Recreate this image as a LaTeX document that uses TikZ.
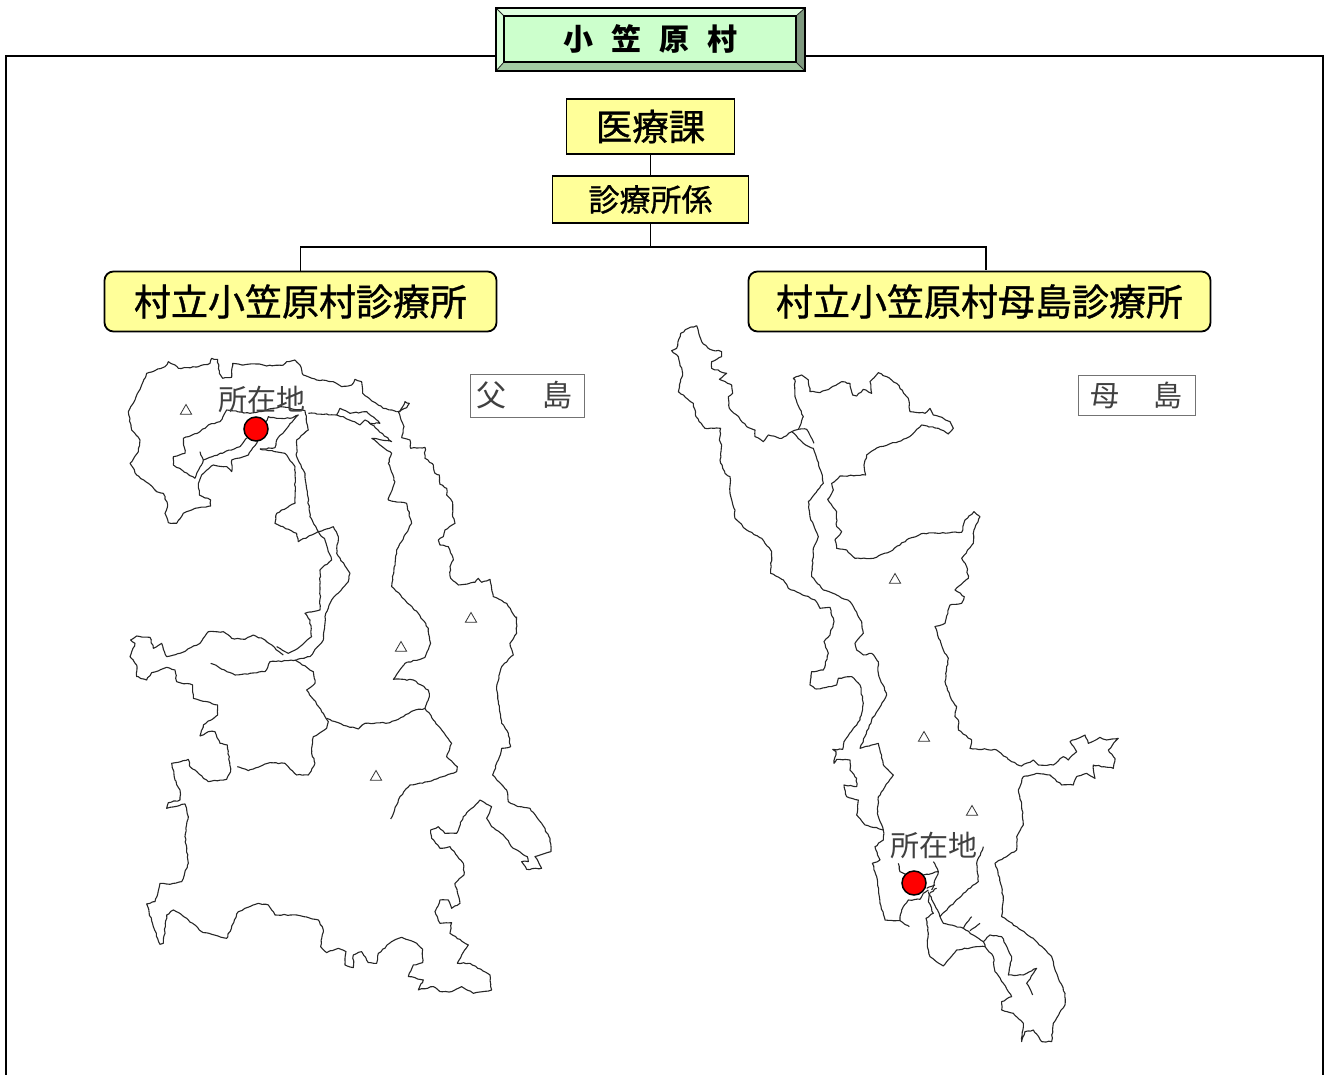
\documentclass[tikz,border=0pt]{standalone}
\usepackage{fontspec}
\setmainfont{Noto Sans CJK JP}
\newfontfamily\boxfont{Noto Sans CJK JP}[FakeBold=1]
\usetikzlibrary{shapes.geometric,decorations.pathmorphing}
\definecolor{boxyellow}{HTML}{FFFF99}
\definecolor{boxgreen}{HTML}{CCFFCC}
\tikzset{
  officebox/.style={draw=black,line width=1.8pt,fill=boxyellow,inner sep=0pt,align=center},
  clinicbox/.style={officebox,rounded corners=9pt},
  islandbox/.style={draw=black!55,line width=0.8pt,fill=white,inner sep=0pt,text=black!75},
  placelabel/.style={inner sep=0pt,text=black!75,font=\fontsize{29}{29}\selectfont},
  peak/.style={draw=black!80,line width=0.8pt,regular polygon,regular polygon sides=3,inner sep=0pt,minimum size=13pt},
  seat/.style={circle,draw=black,line width=1.5pt,fill=red,inner sep=0pt,minimum size=24pt},
  coast/.style={black!85,line width=1.1pt,line join=round,decorate,decoration={random steps,segment length=3pt,amplitude=0.6pt}},
  chichiA/.style={shift={(120,350)},x=0.3333pt,y=-0.3333pt},
  chichiB/.style={shift={(120,600)},x=0.3333pt,y=-0.3333pt},
  chichiC/.style={shift={(380,395)},x=0.3333pt,y=-0.3333pt},
  hahaA/.style={shift={(660,320)},x=0.3333pt,y=-0.3333pt},
  hahaB/.style={shift={(820,700)},x=0.3333pt,y=-0.3333pt}
}
\begin{document}
\begin{tikzpicture}[x=1pt,y=-1pt]
\useasboundingbox (0,0) rectangle (1327,1075);
% outer frame
\draw[black,line width=1.8pt] (6,1075)--(6,56)--(1323,56)--(1323,1075);

% title plate
\fill[boxgreen!60!white] (496,8)--(805,8)--(796,16)--(504,16)--cycle;
\fill[boxgreen!75!white] (496,8)--(504,16)--(504,62)--(496,71)--cycle;
\fill[boxgreen!55!black!90] (805,8)--(796,16)--(796,62)--(805,71)--cycle;
\fill[boxgreen!80!black] (496,71)--(504,62)--(796,62)--(805,71)--cycle;
\draw[black!85,line width=0.8pt] (496,8)--(504,16) (805,8)--(796,16) (496,71)--(504,62) (805,71)--(796,62);
\draw[black,line width=1.5pt] (496,8) rectangle (805,71);
\node (title) at (650,39) [draw=black,line width=1.2pt,fill=boxgreen,inner sep=0pt,minimum width=292pt,minimum height=46pt,font=\fontsize{30}{30}\selectfont\bfseries]{小\hspace{18pt}笠\hspace{18pt}原\hspace{18pt}村};

% offices
\node (ika) at (650.5,126.5) [officebox,minimum width=168pt,minimum height=55pt,font=\boxfont\fontsize{36.5}{37}\selectfont]{医療課};
\node (kakari) at (650.5,199.5) [officebox,minimum width=196pt,minimum height=47pt,font=\boxfont\fontsize{31}{31}\selectfont]{診療所係};
\node (chichiclinic) at (300.5,301.5) [clinicbox,minimum width=392pt,minimum height=60pt,font=\boxfont\fontsize{37}{37}\selectfont]{村立小笠原村診療所};
\node (hahaclinic) at (979.5,301.5) [clinicbox,minimum width=462pt,minimum height=60pt,font=\boxfont\fontsize{37}{37}\selectfont]{村立小笠原村母島診療所};

\coordinate (bus) at (650.5,247);
\coordinate (hahadrop) at (986,270.5);
\draw[line width=1.8pt] (ika)--(kakari);
\draw[line width=1.8pt] (kakari)--(bus);
\draw[line width=1.8pt] (bus)-|(chichiclinic.north);
\draw[line width=1.8pt] (bus)-|(hahadrop);

% Chichijima, north half
\begin{scope}[chichiA]
\draw[coast] (235,405)--(238,435)--(272,450)--(272,468)--(225,475)--(190,490)--(170,520)--(145,518)--(135,490)--(143,465)--(130,430)--(110,425)--(85,400)--(50,375)--(30,340)--(55,305)--(60,270)--(35,240)--(25,185)--(45,150)--(65,105)--(80,70)--(135,50)--(145,35)--(165,45)--(175,55)--(235,50)--(270,40)--(275,25)--(293,28)--(298,70)--(308,85)--(335,82)--(338,40)--(370,45)--(410,42)--(440,48)--(490,45)--(500,35)--(525,30)--(540,45)--(550,75)--(590,90)--(640,95)--(665,110)--(695,105)--(705,88)--(725,95)--(728,130)--(760,155)--(790,175)--(830,185);
\draw[coast] (420,297)--(465,293)--(470,270)--(525,205)--(535,195)--(510,205)--(470,205)--(445,200)--(425,250)--(410,280)--(385,315)--(335,330)--(335,365)--(320,350)--(280,345)--(245,375)--(235,405);
\draw[coast] (225,385)--(160,345)--(160,320)--(195,310)--(190,265)--(240,245)--(265,225)--(300,215)--(320,180)--(390,190)--(440,180)--(480,170)--(555,182)--(565,240)--(530,270)--(530,320)--(555,370)--(570,500)--(595,545)--(640,530)--(655,560)--(650,610)--(690,670)--(685,695)--(635,750)--(615,800)--(610,870)--(570,920)--(530,930)--(450,935)--(435,965)--(345,975)--(272,940);
\draw[coast] (225,385)--(250,330)--(360,290)--(380,265);
\draw[coast] (250,330)--(240,305);
\draw[coast] (420,297)--(495,310)--(525,350)--(525,460)--(470,490)--(465,520)--(530,550)--(535,575)--(595,545)--(615,570)--(635,630)--(600,660)--(600,780)--(555,790)--(570,810)--(575,860)--(540,890)--(505,910)--(470,890);
\draw[coast] (565,190)--(650,195)--(660,175)--(690,190)--(740,185)--(780,220)--(750,220)--(735,210)--(720,225)--(670,200)--(650,195);
\draw[coast] (755,265)--(815,275)--(745,215);
\draw[coast] (755,265)--(780,285)--(815,310)--(805,340)--(825,395)--(805,450)--(860,460)--(875,520)--(830,600)--(815,710)--(855,750);
\end{scope}

% Chichijima, east coast
\begin{scope}[chichiC]
\draw[coast] (50,50)--(60,50)--(75,20)--(88,25)--(80,38)--(55,50)--(72,95)--(65,128)--(90,135)--(92,160)--(135,157)--(135,190)--(160,210)--(165,235)--(178,240)--(180,268)--(200,280)--(200,300)--(218,322)--(218,365)--(225,385)--(195,405)--(190,425)--(175,435)--(180,450)--(205,455)--(220,495)--(210,515)--(212,550)--(235,570)--(285,562)--(295,550)--(305,562)--(330,553)--(340,605)--(380,625)--(398,655)--(410,670);
\end{scope}

% Chichijima, south half
\begin{scope}[chichiB]
\draw[coast] (1190,50)--(1190,100)--(1170,130)--(1180,165)--(1145,200)--(1130,260)--(1135,310)--(1145,370)--(1165,400)--(1172,440)--(1145,445)--(1135,480)--(1118,525)--(1160,570)--(1165,605)--(1195,620)--(1230,625)--(1265,670)--(1290,715)--(1293,755)--(1245,770)--(1265,805)--(1220,808)--(1205,785)--(1225,785)--(1222,770)--(1180,745)--(1150,705)--(1115,680)--(1100,655)--(1115,620)--(1080,600)--(1030,650)--(1010,700)--(975,700)--(955,680)--(932,690)--(935,715)--(960,745)--(990,740)--(1030,790)--(1032,825)--(1005,850)--(1020,910)--(995,925)--(985,900)--(960,900)--(945,935)--(960,970)--(995,968)--(990,1000)--(1045,1035)--(1012,1090)--(1050,1090)--(1110,1125)--(1115,1170)--(1060,1180)--(1025,1160)--(995,1175)--(960,1175)--(940,1160)--(895,1170)--(910,1140)--(865,1130)--(880,1095)--(908,1088)--(908,1048)--(890,1030)--(845,1012)--(815,1025)--(775,1060)--(770,1090)--(745,1088)--(725,1055)--(700,1065)--(700,1103)--(675,1095)--(678,1055)--(655,1045)--(620,1058)--(602,1040)--(610,990)--(595,960)--(530,945)--(465,945)--(445,915)--(415,910)--(355,935)--(320,1015)--(245,995)--(200,955)--(160,930)--(140,945)--(130,1030)--(120,1033)--(100,980)--(80,912)--(105,905)--(120,850)--(150,853)--(185,845)--(205,790)--(195,710)--(205,650)--(195,612)--(140,625)--(145,608)--(180,600)--(180,570)--(165,540)--(155,490)--(205,478)--(210,500)--(265,545)--(320,538)--(332,515)--(322,435)--(300,430)--(285,395)--(265,395)--(240,408)--(250,375)--(293,345)--(293,315)--(220,295)--(218,255)--(170,245)--(165,210)--(140,202)--(95,218)--(80,240)--(50,230)--(50,195)--(30,170)--(45,130)--(32,120)--(50,108)--(90,112)--(100,145)--(125,130)--(140,170)--(180,160)--(240,130)--(265,95)--(310,95)--(335,115)--(375,118)--(400,105)--(435,120)--(490,165);
\draw[coast] (525,180)--(580,215)--(585,250)--(560,270)--(610,340)--(625,365)--(620,385)--(580,410)--(575,460)--(585,490)--(565,525)--(530,525)--(495,490)--(450,488)--(385,512)--(352,500);
\draw[coast] (620,355)--(680,378)--(715,387)--(735,370)--(810,368)--(850,350)--(880,332)--(915,325)--(945,365)--(995,430)--(980,470)--(1012,500)--(1010,515)--(925,545)--(870,555)--(840,590)--(812,657);
\draw[coast] (915,325)--(928,290)--(925,270)--(880,240)--(820,238)--(855,190)--(915,172)--(932,130)--(925,85)--(895,40)--(855,0);
\end{scope}

% Hahajima, north half
\begin{scope}[hahaA]
\draw[coast] (110,17)--(85,25)--(62,40)--(50,85)--(35,92)--(55,110)--(68,160)--(55,215)--(100,250)--(108,290)--(135,325)--(182,325)--(178,360)--(185,375)--(180,420)--(195,460)--(210,470)--(210,520)--(225,570)--(225,595)--(260,630)--(305,655)--(335,695)--(332,760)--(370,780)--(385,805)--(420,820)--(465,840)--(480,865)--(510,862)--(522,905)--(510,945)--(492,965)--(505,1000)--(490,1050)--(455,1055)--(450,1095)--(470,1107)--(530,1095)--(535,1075)--(575,1070)--(600,1095)--(610,1150)--(600,1200);
\draw[coast] (110,17)--(125,65)--(150,88)--(185,95)--(185,110)--(155,125)--(155,145)--(200,160)--(178,178)--(215,195)--(218,220)--(205,230)--(208,265)--(230,285)--(260,320)--(285,330)--(285,350)--(310,365)--(325,345)--(365,355)--(395,335)--(430,370)--(460,385)--(485,460)--(490,490)--(445,545)--(450,590)--(475,650)--(460,685)--(455,770)--(490,810)--(530,825)--(570,845)--(605,905)--(610,940)--(585,970)--(590,990)--(610,1005)--(635,1000)--(655,1025)--(655,1060)--(680,1125)--(635,1200);
\draw[coast] (395,335)--(415,328)--(430,290)--(405,230)--(405,180)--(400,175)--(425,165)--(445,180)--(450,215)--(480,218)--(510,205)--(545,185)--(570,190)--(578,225)--(590,228)--(610,208)--(635,220)--(630,185)--(655,158)--(680,170)--(710,190)--(745,235)--(750,275)--(795,280)--(810,265)--(820,285)--(850,295)--(870,305)--(880,325)--(865,342)--(835,325)--(785,315)--(755,345)--(715,365)--(660,380)--(620,405)--(612,435)--(617,465)--(540,468)--(515,490)--(520,510)--(503,538)--(530,575)--(530,620)--(545,635)--(525,660)--(530,685)--(560,690)--(585,715)--(640,715)--(690,695)--(740,660)--(790,640)--(840,640)--(905,637)--(915,600)--(942,575)--(960,590)--(942,630)--(940,670)--(905,715)--(920,740)--(925,775)--(885,810)--(913,830)--(905,850)--(870,855)--(855,910)--(825,920)--(850,990)--(865,1015)--(855,1085)--(875,1140)--(890,1160)--(885,1190)--(895,1200);
\draw[coast] (415,328)--(440,328)--(462,370);
\end{scope}

% Hahajima, south half
\begin{scope}[hahaB]
\draw[coast] (120,60)--(100,85)--(72,125)--(68,148)--(38,148)--(48,155)--(42,190)--(50,178)--(90,180)--(90,210)--(110,235)--(110,260)--(72,255)--(80,290)--(115,300)--(110,345)--(135,375)--(190,390)--(190,420)--(165,440)--(180,480)--(157,490)--(170,530)--(180,610)--(195,660)--(240,662)--(268,680);
\draw[coast] (155,60)--(120,145)--(175,130)--(190,195)--(220,225)--(175,290)--(172,340)--(190,390);
\draw[coast] (240,662)--(245,630)--(265,600)--(300,598)--(310,580)--(325,570);
\draw[coast] (235,490)--(240,515)--(260,525);
\draw[coast] (310,525)--(355,515)--(340,485);
\draw[coast] (415,60)--(415,90)--(455,120)--(450,145)--(530,150)--(575,185)--(605,198)--(640,180)--(655,195)--(700,195)--(730,170)--(745,180)--(770,155)--(750,125)--(795,105)--(805,130)--(840,112)--(860,120)--(895,115)--(865,150)--(885,175)--(880,205)--(820,195)--(825,235)--(800,220)--(770,230)--(760,255)--(725,255)--(690,225)--(650,220)--(610,230)--(595,270)--(605,310)--(610,375)--(590,410)--(590,450)--(525,490)--(545,560)--(550,600)--(545,650)--(640,715)--(695,770)--(710,820)--(735,880)--(735,915)--(700,970)--(695,1025)--(665,1025)--(640,990)--(615,995)--(605,1025)--(610,970)--(580,940)--(545,930)--(545,905)--(575,890)--(550,850)--(525,815)--(520,770)--(495,740)--(470,740)--(410,750)--(370,798)--(330,770)--(322,740)--(325,700)--(318,655)--(340,640)--(325,605)--(330,580);
\draw[coast] (325,575)--(360,650)--(370,670)--(430,685)--(490,725)--(510,705)--(545,710)--(575,770)--(565,825)--(610,825)--(650,805)--(620,850)--(638,885);
\draw[coast] (360,650)--(430,580)--(475,545)--(470,490)--(490,440);
\draw[coast] (430,685)--(455,650);
\draw[coast] (450,692)--(480,670);
\draw[coast] (490,725)--(495,740);
\draw[coast] (320,565)--(345,555);
\draw[coast] (330,578)--(350,565);
\draw[coast] (335,570)--(350,530)--(355,515);
\end{scope}

% island labels
\node (chichilabel) at (527,395.5) [islandbox,minimum width=114pt,minimum height=43pt,font=\fontsize{30}{30}\selectfont]{父\hspace{36pt}島\hspace{5pt}\mbox{}};
\node (hahalabel) at (1136.5,395) [islandbox,minimum width=117pt,minimum height=40pt,font=\fontsize{29}{29}\selectfont]{母\hspace{35pt}島};

% peaks
\node (p1) at (186,411) [peak]{};
\node (p2) at (401,648) [peak]{};
\node (p3) at (471,619) [peak]{};
\node (p4) at (376,777) [peak]{};
\node (p5) at (895,580) [peak]{};
\node (p6) at (924,738) [peak]{};
\node (p7) at (972,812) [peak]{};

% clinic sites
\node (chichisite) at (262,399) [placelabel]{所在地};
\node (hahasite) at (934,845) [placelabel]{所在地};
\node (chichidot) at (256,429) [seat]{};
\node (hahadot) at (914,883) [seat]{};
\end{tikzpicture}
\end{document}
